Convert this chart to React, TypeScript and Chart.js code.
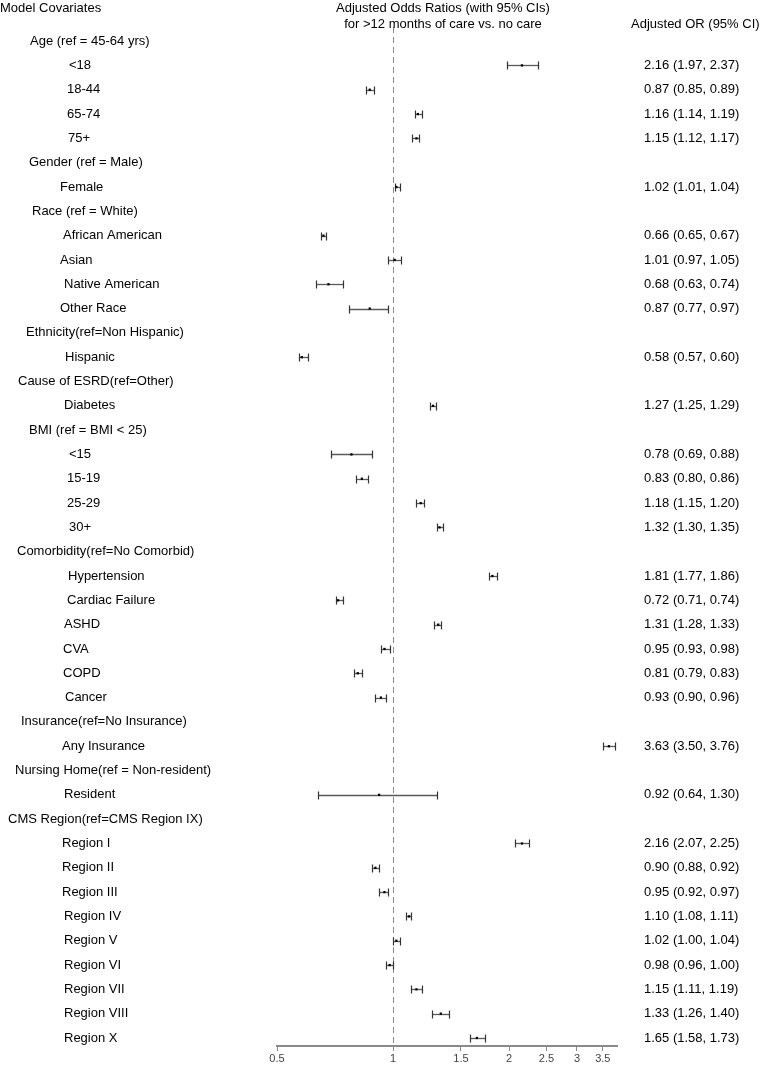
import React, { useEffect, useRef } from "react";
import { Chart, registerables } from "chart.js";

Chart.register(...registerables);

// Row labels (headers have null estimates)
const rowLabels: string[] = [
  "Age (ref = 45-64 yrs)", "<18", "18-44", "65-74", "75+",
  "Gender (ref = Male)", "Female",
  "Race (ref = White)", "African American", "Asian", "Native American", "Other Race",
  "Ethnicity(ref=Non Hispanic)", "Hispanic",
  "Cause of ESRD(ref=Other)", "Diabetes",
  "BMI (ref = BMI < 25)", "<15", "15-19", "25-29", "30+",
  "Comorbidity(ref=No Comorbid)", "Hypertension", "Cardiac Failure", "ASHD", "CVA", "COPD", "Cancer",
  "Insurance(ref=No Insurance)", "Any Insurance",
  "Nursing Home(ref = Non-resident)", "Resident",
  "CMS Region(ref=CMS Region IX)", "Region I", "Region II", "Region III", "Region IV", "Region V",
  "Region VI", "Region VII", "Region VIII", "Region X",
];

const oddsRatio: (number | null)[] = [
  null, 2.16, 0.87, 1.16, 1.15,
  null, 1.02,
  null, 0.66, 1.01, 0.68, 0.87,
  null, 0.58,
  null, 1.27,
  null, 0.78, 0.83, 1.18, 1.32,
  null, 1.81, 0.72, 1.31, 0.95, 0.81, 0.93,
  null, 3.63,
  null, 0.92,
  null, 2.16, 0.90, 0.95, 1.10, 1.02, 0.98, 1.15, 1.33, 1.65,
];

const ciLower: (number | null)[] = [
  null, 1.97, 0.85, 1.14, 1.12,
  null, 1.01,
  null, 0.65, 0.97, 0.63, 0.77,
  null, 0.57,
  null, 1.25,
  null, 0.69, 0.80, 1.15, 1.30,
  null, 1.77, 0.71, 1.28, 0.93, 0.79, 0.90,
  null, 3.50,
  null, 0.64,
  null, 2.07, 0.88, 0.92, 1.08, 1.00, 0.96, 1.11, 1.26, 1.58,
];

const ciUpper: (number | null)[] = [
  null, 2.37, 0.89, 1.19, 1.17,
  null, 1.04,
  null, 0.67, 1.05, 0.74, 0.97,
  null, 0.60,
  null, 1.29,
  null, 0.88, 0.86, 1.20, 1.35,
  null, 1.86, 0.74, 1.33, 0.98, 0.83, 0.96,
  null, 3.76,
  null, 1.30,
  null, 2.25, 0.92, 0.97, 1.11, 1.04, 1.00, 1.19, 1.40, 1.73,
];

const xTicks: number[] = [0.5, 1, 1.5, 2, 2.5, 3, 3.5];

// Layout: left x position of each row label
const labelIndent: number[] = [
  30, 69, 67, 67, 68,
  29, 60,
  32, 63, 60, 64, 60,
  26, 65,
  18, 64,
  29, 69, 67, 67, 69,
  17, 68, 67, 64, 63, 63, 65,
  21, 62,
  15, 64,
  8, 62, 62, 62, 64, 64, 64, 64, 64, 64,
];

const FONT = '"Liberation Sans", Arial, sans-serif';

function fmt(v: number): string {
  return v.toFixed(2);
}

export default function App() {
  const ref = useRef<HTMLCanvasElement | null>(null);

  useEffect(() => {
    document.body.style.margin = "0";
    const canvas = ref.current;
    if (!canvas) return;

    const points = oddsRatio
      .map((v, i) => (v == null ? null : { x: v, y: i }))
      .filter((p) => p !== null) as { x: number; y: number }[];

    const forestPlugin = {
      id: "forest",
      beforeDatasetsDraw(chart: any) {
        const { ctx, chartArea, scales } = chart;
        const xs = scales.x;
        const ys = scales.y;
        ctx.save();
        // reference line at OR = 1
        const x1 = Math.round(xs.getPixelForValue(1)) + 0.5;
        ctx.strokeStyle = "#8a8a8a";
        ctx.lineWidth = 1;
        ctx.setLineDash([6, 4]);
        ctx.beginPath();
        ctx.moveTo(x1, chartArea.top);
        ctx.lineTo(x1, chartArea.bottom);
        ctx.stroke();
        ctx.setLineDash([]);

        // whiskers
        for (let i = 0; i < rowLabels.length; i++) {
          const lo = ciLower[i];
          const hi = ciUpper[i];
          if (lo == null || hi == null) continue;
          const y = Math.round(ys.getPixelForValue(i)) + 0.5;
          const xl = Math.round(xs.getPixelForValue(lo)) + 0.5;
          const xh = Math.round(xs.getPixelForValue(hi)) + 0.5;
          ctx.strokeStyle = "#5a5a5a";
          ctx.lineWidth = 1.3;
          ctx.beginPath();
          ctx.moveTo(xl, y);
          ctx.lineTo(xh, y);
          ctx.stroke();
          ctx.strokeStyle = "#333";
          ctx.lineWidth = 1.2;
          ctx.beginPath();
          ctx.moveTo(xl, y - 4);
          ctx.lineTo(xl, y + 4);
          ctx.moveTo(xh, y - 4);
          ctx.lineTo(xh, y + 4);
          ctx.stroke();
        }
        ctx.restore();
      },
      afterDraw(chart: any) {
        const { ctx, scales } = chart;
        const ys = scales.y;
        ctx.save();
        ctx.fillStyle = "#000";
        ctx.font = `13px ${FONT}`;
        ctx.textBaseline = "middle";
        ctx.textAlign = "left";
        ctx.fillText("Model Covariates", 0, 8);
        ctx.fillText("Adjusted OR (95% CI)", 631, 24);
        ctx.textAlign = "center";
        ctx.fillText("Adjusted Odds Ratios (with 95% CIs)", 443, 8);
        ctx.fillText("for >12 months of care vs. no care", 443, 24);
        ctx.textAlign = "left";
        for (let i = 0; i < rowLabels.length; i++) {
          const y = ys.getPixelForValue(i);
          ctx.fillText(rowLabels[i], labelIndent[i], y);
          const v = oddsRatio[i];
          const lo = ciLower[i];
          const hi = ciUpper[i];
          if (v != null && lo != null && hi != null) {
            ctx.fillText(`${fmt(v)} (${fmt(lo)}, ${fmt(hi)})`, 644, y);
          }
        }
        ctx.restore();
      },
    };

    const chart = new Chart(canvas, {
      type: "scatter",
      data: {
        datasets: [
          {
            data: points,
            pointStyle: "rect",
            pointRadius: 1.6,
            backgroundColor: "#000",
            borderColor: "#000",
            borderWidth: 0,
          },
        ],
      },
      options: {
        responsive: false,
        animation: false,
        devicePixelRatio: 1,
        layout: { padding: { left: 277, right: 165, top: 27, bottom: 0 } },
        plugins: { legend: { display: false }, tooltip: { enabled: false }, title: { display: false } },
        scales: {
          x: {
            type: "logarithmic",
            min: 0.5,
            max: 3.81,
            afterBuildTicks(scale: any) {
              scale.ticks = xTicks.map((v) => ({ value: v }));
            },
            afterFit(scale: any) {
              scale.height = 19;
            },
            ticks: {
              autoSkip: false,
              maxRotation: 0,
              padding: 1,
              color: "#444",
              font: { family: FONT, size: 11 },
              callback: (v: any) => String(v),
            },
            grid: { drawOnChartArea: false, drawTicks: true, tickLength: 5, color: "#888", lineWidth: 1 },
            border: { display: true, color: "#8a8a8a", width: 2 },
          },
          y: {
            type: "linear",
            reverse: true,
            min: -0.58,
            max: 41.33,
            display: false,
          },
        },
      },
      plugins: [forestPlugin],
    });

    return () => chart.destroy();
  }, []);

  return (
    <div style={{ position: "absolute", left: 0, top: 0, width: 782, height: 1065 }}>
      <canvas ref={ref} width={782} height={1065} style={{ display: "block" }} />
    </div>
  );
}
